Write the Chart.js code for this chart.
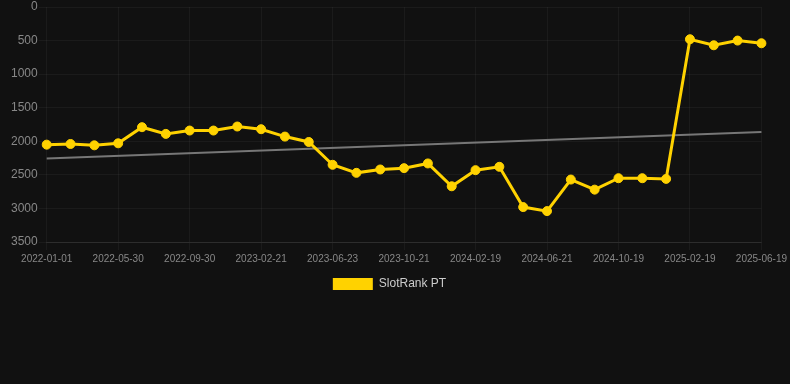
<!DOCTYPE html>
<html>
<head>
<meta charset="utf-8">
<script src="https://cdn.jsdelivr.net/npm/chart.js@4"></script>
<style>
  html, body { margin: 0; padding: 0; background: #111111; }
  #wrap { position: relative; width: 790px; height: 300px; }
</style>
</head>
<body>
<div id="wrap"><canvas id="chart"></canvas></div>
<script>
const dates = [
  '2022-01-01', '2022-02-19', '2022-04-10', '2022-05-30', '2022-07-10', '2022-08-20',
  '2022-09-30', '2022-11-17', '2023-01-04', '2023-02-21', '2023-04-01', '2023-05-12',
  '2023-06-23', '2023-08-02', '2023-09-11', '2023-10-21', '2023-11-30', '2024-01-09',
  '2024-02-19', '2024-03-30', '2024-05-11', '2024-06-21', '2024-07-31', '2024-09-09',
  '2024-10-19', '2024-11-29', '2025-01-09', '2025-02-19', '2025-03-30', '2025-05-10',
  '2025-06-19'
];
const rank = [
  2050, 2040, 2060, 2030, 1790, 1890, 1840, 1840, 1780, 1820, 1930, 2010,
  2350, 2470, 2420, 2400, 2330, 2670, 2430, 2380, 2980, 3040, 2570, 2720,
  2550, 2550, 2560, 480, 570, 500, 540
];
const trendStart = 2255;
const trendEnd = 1860;

const gold = '#FFD200';
const font = 'Arial, "Liberation Sans", sans-serif';

new Chart(document.getElementById('chart'), {
  type: 'line',
  data: {
    labels: dates,
    datasets: [
      {
        label: 'SlotRank PT',
        data: rank,
        borderColor: gold,
        backgroundColor: gold,
        borderWidth: 3,
        pointRadius: 4.5,
        pointBorderWidth: 1,
        pointBackgroundColor: gold,
        pointBorderColor: gold,
        tension: 0,
      },
      {
        label: 'trend',
        data: [
          { x: dates[0], y: trendStart },
          { x: dates[dates.length - 1], y: trendEnd },
        ],
        borderColor: '#777777',
        borderWidth: 2,
        pointRadius: 0,
        tension: 0,
      },
    ],
  },
  options: {
    responsive: true,
    maintainAspectRatio: false,
    animation: false,
    // right padding only re-centres the legend; the last tick label already pads the plot more
    layout: { padding: { left: 10, right: 21 } },
    plugins: {
      legend: {
        position: 'bottom',
        labels: {
          color: '#cccccc',
          font: { family: font, size: 12 },
          boxWidth: 40,
          boxHeight: 12,
          generateLabels: (chart) =>
            Chart.defaults.plugins.legend.labels.generateLabels(chart)
              .filter((item) => item.text !== 'trend')
              .map((item) => ({ ...item, lineWidth: 0 })),
        },
      },
      tooltip: { enabled: false },
    },
    scales: {
      x: {
        grid: { color: 'rgba(255,255,255,0.045)' },
        border: { color: 'rgba(255,255,255,0.08)' },
        ticks: {
          color: '#888888',
          font: { family: font, size: 10 },
          autoSkip: true,
          maxTicksLimit: 11,
          maxRotation: 0,
        },
      },
      y: {
        reverse: true,
        min: 0,
        max: 3500,
        grid: { color: 'rgba(255,255,255,0.045)' },
        border: { display: false },
        ticks: {
          stepSize: 500,
          padding: 1,
          color: '#888888',
          font: { family: font, size: 12, lineHeight: 1 },
          callback: (v) => String(v),
        },
      },
    },
  },
});
</script>
</body>
</html>
